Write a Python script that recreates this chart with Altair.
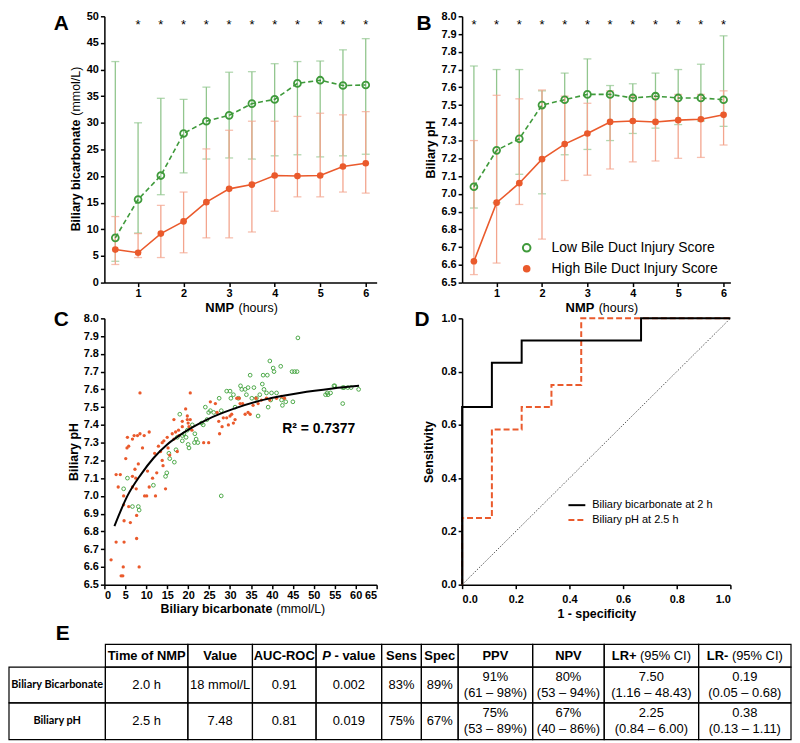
import altair as alt
import pandas as pd

# ---------------- data ----------------
hours = [0.5, 1.0, 1.5, 2.0, 2.5, 3.0, 3.5, 4.0, 4.5, 5.0, 5.5, 6.0]

hco3_low_mean = [8.4, 15.6, 20.1, 28.0, 30.3, 31.4, 33.6, 34.4, 37.4, 38.0, 37.0, 37.1]
hco3_low_upper = [41.5, 30.0, 34.6, 34.4, 36.7, 39.5, 39.6, 41.1, 41.5, 41.6, 43.7, 45.8]
hco3_low_lower = [4.0, 9.3, 16.5, 20.6, 23.2, 23.4, 23.2, 23.8, 24.0, 23.6, 23.8, 24.1]
hco3_high_mean = [6.2, 5.6, 9.2, 11.5, 15.1, 17.6, 18.4, 20.1, 20.0, 20.1, 21.8, 22.4]
hco3_high_upper = [12.4, 9.2, 14.5, 17.0, 25.1, 28.6, 30.3, 30.3, 31.2, 31.8, 31.5, 32.1]
hco3_high_lower = [3.4, 4.7, 4.7, 5.6, 8.4, 8.4, 9.5, 13.4, 16.1, 16.1, 17.0, 16.8]
sig_hco3 = [1.0, 1.5, 2.0, 2.5, 3.0, 3.5, 4.0, 4.5, 5.0, 5.5, 6.0]

ph_low_mean = [7.04, 7.245, 7.31, 7.50, 7.53, 7.56, 7.56, 7.54, 7.55, 7.54, 7.54, 7.53]
ph_low_upper = [7.72, 7.70, 7.70, 7.58, 7.68, 7.76, 7.61, 7.62, 7.68, 7.70, 7.73, 7.89]
ph_low_lower = [6.92, 6.95, 7.11, 7.00, 7.22, 7.25, 7.30, 7.34, 7.37, 7.39, 7.41, 7.38]
ph_high_mean = [6.62, 6.95, 7.06, 7.195, 7.28, 7.34, 7.405, 7.41, 7.405, 7.415, 7.42, 7.445]
ph_high_upper = [7.30, 7.555, 7.535, 7.585, 7.55, 7.51, 7.58, 7.55, 7.55, 7.56, 7.56, 7.58]
ph_high_lower = [6.545, 6.61, 6.94, 6.745, 7.075, 7.105, 7.14, 7.18, 7.185, 7.20, 7.205, 7.275]
sig_ph = [0.5, 1.0, 1.5, 2.0, 2.5, 3.0, 3.5, 4.0, 4.5, 5.0, 5.5, 6.0]

group_labels = ["Low Bile Duct Injury Score", "High Bile Duct Injury Score"]

scatter_low_hco3 = [5.5, 4.6, 6.7, 8.1, 8.3, 27.9, 11.7, 14.6, 14.9, 15.4,
                    15.6, 16.7, 17.1, 17.4, 18.0, 18.6, 19.0, 19.5, 20.0, 20.2,
                    21.0, 21.6, 21.9, 21.5, 22.3, 23.2, 23.6, 24.5, 24.9, 24.1,
                    25.3, 26.1, 27.4, 27.9, 30.0, 30.2, 30.8, 31.2, 32.0, 32.5,
                    32.8, 33.6, 33.9, 34.3, 34.8, 35.2, 35.7, 36.3, 36.7, 37.1,
                    37.7, 37.9, 38.1, 38.7, 38.9, 39.1, 39.5, 39.7, 39.9, 40.3,
                    40.5, 41.1, 42.1, 42.3, 42.5, 43.3, 44.8, 45.4, 46.0, 46.2,
                    45.0, 52.8, 53.4, 54.0, 55.0, 56.9, 57.2, 58.1, 58.9, 60.7,
                    56.9, 19.8, 18.6, 29.2, 54.8, 53.2]
scatter_low_ph = [7.10, 7.04, 6.94, 6.94, 6.92, 7.00, 7.06, 7.11, 7.13, 7.24,
                  7.21, 7.19, 7.26, 7.33, 7.46, 7.31, 7.35, 7.33, 7.29, 7.27,
                  7.40, 7.35, 7.32, 7.30, 7.30, 7.41, 7.40, 7.43, 7.47, 7.50,
                  7.48, 7.47, 7.55, 7.48, 7.59, 7.55, 7.57, 7.50, 7.55, 7.62,
                  7.60, 7.60, 7.57, 7.61, 7.68, 7.55, 7.61, 7.55, 7.45, 7.57,
                  7.63, 7.68, 7.60, 7.58, 7.68, 7.50, 7.76, 7.54, 7.58, 7.72,
                  7.70, 7.58, 7.73, 7.54, 7.51, 7.53, 7.70, 7.70, 7.70, 7.89,
                  7.53, 7.57, 7.57, 7.58, 7.62, 7.52, 7.61, 7.61, 7.61, 7.60,
                  7.61, 7.37, 7.34, 7.59, 7.62, 7.58]
scatter_high_hco3 = [1.6, 2.8, 4.7, 4.5, 8.3, 7.7, 4.7, 6.2, 7.7, 5.8,
                     4.6, 4.6, 3.3, 3.8, 6.7, 7.6, 7.5, 6.7, 7.3, 8.1,
                     5.1, 5.8, 6.7, 7.1, 7.9, 8.5, 9.5, 10.7, 9.1, 8.5,
                     9.6, 10.1, 10.7, 10.3, 12.2, 11.5, 12.5, 12.0, 12.9, 13.4,
                     13.8, 14.6, 14.0, 13.8, 14.2, 15.0, 15.2, 15.6, 16.6, 16.2,
                     17.0, 17.4, 17.8, 16.6, 17.7, 19.4, 19.8, 19.8, 20.0, 20.2,
                     18.6, 18.6, 20.5, 20.5, 20.9, 23.7, 24.9, 25.3, 26.5, 26.9,
                     27.3, 27.5, 28.1, 28.4, 29.2, 30.0, 29.6, 30.8, 31.2, 30.4,
                     31.6, 32.2, 33.0, 33.6, 34.3, 34.8, 35.5, 36.2, 37.5, 38.7,
                     39.5, 41.1, 42.3, 43.0, 36.7, 32.4, 2.8, 5.4, 5.5, 4.0,
                     4.4]
scatter_high_ph = [6.64, 6.74, 6.74, 6.60, 6.60, 6.76, 6.86, 6.85, 6.89, 6.94,
                   6.95, 7.00, 7.05, 7.12, 7.05, 7.04, 7.10, 7.11, 7.15, 7.18,
                   7.21, 7.28, 7.32, 7.34, 7.34, 7.35, 7.34, 7.36, 7.27, 7.58,
                   7.00, 7.00, 7.05, 7.14, 7.00, 7.10, 7.13, 7.24, 7.28, 7.25,
                   7.20, 7.04, 7.17, 7.30, 7.31, 7.33, 7.27, 7.23, 7.32, 7.35,
                   7.36, 7.25, 7.34, 7.43, 7.37, 7.49, 7.45, 7.43, 7.41, 7.39,
                   7.39, 7.42, 7.58, 7.43, 7.37, 7.30, 7.30, 7.53, 7.52, 7.47,
                   7.42, 7.35, 7.39, 7.44, 7.44, 7.45, 7.40, 7.41, 7.43, 7.46,
                   7.55, 7.55, 7.52, 7.46, 7.47, 7.46, 7.51, 7.55, 7.54, 7.55,
                   7.54, 7.55, 7.56, 7.55, 7.52, 7.52, 7.12, 7.27, 7.33, 6.55,
                   6.55]
fit_hco3 = [2.4, 5.5, 8.7, 11.8, 15.0, 18.2, 21.3, 24.5, 30.8, 38.7, 46.6, 54.5, 60.8]
fit_ph = [6.83, 7.0, 7.12, 7.215, 7.29, 7.345, 7.39, 7.43, 7.49, 7.545, 7.58, 7.605, 7.62]
r2_label = "R\u00b2 = 0.7377"

roc_hco3_fpr = [0, 0, 0.111, 0.111, 0.222, 0.222, 0.667, 0.667, 1.0]
roc_hco3_tpr = [0, 0.667, 0.667, 0.833, 0.833, 0.917, 0.917, 1.0, 1.0]
roc_ph_fpr = [0, 0, 0.111, 0.111, 0.222, 0.222, 0.333, 0.333, 0.444, 0.444, 1.0]
roc_ph_tpr = [0, 0.25, 0.25, 0.583, 0.583, 0.667, 0.667, 0.75, 0.75, 1.0, 1.0]
roc_labels = ["Biliary bicarbonate at 2 h", "Biliary pH at 2.5 h"]
diag = [0.0, 1.0]

table_header = ["", "Time of NMP", "Value", "AUC-ROC", "P - value", "Sens", "Spec",
                "PPV", "NPV", "LR+ (95% CI)", "LR- (95% CI)"]
table_row_labels = ["Biliary Bicarbonate", "Biliary pH"]
table_row1 = ["2.0 h", "18 mmol/L", "0.91", "0.002", "83%", "89%",
              "91%\n(61 \u2013 98%)", "80%\n(53 \u2013 94%)",
              "7.50\n(1.16 \u2013 48.43)", "0.19\n(0.05 \u2013 0.68)"]
table_row2 = ["2.5 h", "7.48", "0.81", "0.019", "75%", "67%",
              "75%\n(53 \u2013 89%)", "67%\n(40 \u2013 86%)",
              "2.25\n(0.84 \u2013 6.00)", "0.38\n(0.13 \u2013 1.11)"]

# ---------------- style / layout ----------------
FONT = "Liberation Sans"
ROWFONT = "Lato"
GREEN = "#3f9a3b"
GREEN_LIGHT = "#92c68e"
RED = "#ea5a2c"
RED_LIGHT = "#f3a58e"

W0, W1 = 274, 270
H0, H1, HE = 268, 268, 121
LINE_H = 16
XT = 26  # distance of the x-axis title below the plot


def txt(text, x, y, size=12.5, weight="bold", align="left", baseline="middle",
        angle=0, color="black", font=FONT, style="normal"):
    kw = dict(font=font, fontSize=size, fontWeight=weight, align=align,
              baseline=baseline, color=color, fontStyle=style)
    if angle:
        kw["angle"] = angle
    return alt.Chart(pd.DataFrame({"t": [text]})).mark_text(**kw).encode(
        text="t:N", x=alt.value(x), y=alt.value(y))


def timecourse(low, high, xdom, ydom, yvals, yfmt, sig):
    xs = alt.Scale(domain=xdom, nice=False, zero=False)
    ys = alt.Scale(domain=ydom, nice=False, zero=False)
    xax = alt.Axis(values=[1, 2, 3, 4, 5, 6], format="d", title=None, labelPadding=1)
    yax = alt.Axis(values=yvals, format=yfmt, title=None)

    def X():
        return alt.X("h:Q", scale=xs, axis=xax)

    def Y(f):
        return alt.Y(f + ":Q", scale=ys, axis=yax)

    layers = []
    dfs = []
    for (m, hi, lo), light in [(low, GREEN_LIGHT), (high, RED_LIGHT)]:
        df = pd.DataFrame({"h": hours, "m": m, "hi": hi, "lo": lo})
        dfs.append(df)
        base = alt.Chart(df)
        layers.append(base.mark_rule(color=light, strokeWidth=1.3).encode(
            x=X(), y=Y("lo"), y2="hi:Q"))
        layers.append(base.mark_tick(orient="horizontal", color=light, size=8,
                                     thickness=1.3).encode(x=X(), y=Y("lo")))
        layers.append(base.mark_tick(orient="horizontal", color=light, size=8,
                                     thickness=1.3).encode(x=X(), y=Y("hi")))
    layers.append(alt.Chart(dfs[0]).mark_line(color=GREEN, strokeWidth=1.6,
                                              strokeDash=[5, 3]).encode(x=X(), y=Y("m")))
    layers.append(alt.Chart(dfs[1]).mark_line(color=RED, strokeWidth=1.6).encode(
        x=X(), y=Y("m")))
    layers.append(alt.Chart(dfs[0]).mark_point(shape="circle", filled=False, size=48,
                                               strokeWidth=1.8, color=GREEN,
                                               opacity=1).encode(x=X(), y=Y("m")))
    layers.append(alt.Chart(dfs[1]).mark_circle(size=45, color=RED, opacity=1).encode(
        x=X(), y=Y("m")))
    layers.append(alt.Chart(pd.DataFrame({"h": sig})).mark_text(
        text="*", font=FONT, fontSize=13, color="black", baseline="alphabetic").encode(
        x=X(), y=alt.value(13)))
    return layers


# ---------- Panel A ----------
A_layers = timecourse((hco3_low_mean, hco3_low_upper, hco3_low_lower),
                      (hco3_high_mean, hco3_high_upper, hco3_high_lower),
                      [0.26, 6.24], [0, 50], list(range(0, 55, 5)), "d", sig_hco3)
A_layers += [
    txt("A", -51, 14, size=21, baseline="alphabetic"),
    txt("Biliary bicarbonate", -29, 104, size=12.5, align="right", angle=270),
    txt("(mmol/L)", -29, 100, size=12.5, weight="normal", align="left", angle=270),
    txt("NMP", 130.5, H0 + XT, size=13, align="right"),
    txt("(hours)", 135, H0 + XT, size=12.5, weight="normal", align="left"),
]
A = alt.layer(*A_layers).properties(width=W0, height=H0)

# ---------- Panel B ----------
ph_ticks = [round(6.5 + 0.1 * i, 1) for i in range(16)]
B_layers = timecourse((ph_low_mean, ph_low_upper, ph_low_lower),
                      (ph_high_mean, ph_high_upper, ph_high_lower),
                      [0.24, 6.15], [6.5, 8.0], ph_ticks, ".1f", sig_ph)
B_layers += [
    txt("B", -46, 14, size=21, baseline="alphabetic"),
    txt("Biliary pH", -31, H0 / 2, size=12.5, align="center", angle=270),
    txt("NMP", 133, H0 + XT, size=13, align="right"),
    txt("(hours)", 137.5, H0 + XT, size=12.5, weight="normal", align="left"),
    alt.Chart(pd.DataFrame({"g": [group_labels[0]]})).mark_point(
        shape="circle", filled=False, size=58, strokeWidth=2, color=GREEN, opacity=1).encode(
        x=alt.value(65), y=alt.value(233)),
    alt.Chart(pd.DataFrame({"g": [group_labels[1]]})).mark_circle(
        size=58, color=RED, opacity=1).encode(x=alt.value(65), y=alt.value(254)),
    txt(group_labels[0], 90, 233, size=14, weight="normal"),
    txt(group_labels[1], 90, 254, size=14, weight="normal"),
]
B = alt.layer(*B_layers).properties(width=W1, height=H0)

# ---------- Panel C ----------
cxs = alt.Scale(domain=[0, 65], nice=False, zero=False)
cys = alt.Scale(domain=[6.5, 8.0], nice=False, zero=False)
cxax = alt.Axis(values=list(range(0, 70, 5)), format="d", title=None, labelPadding=1)
cyax = alt.Axis(values=ph_ticks, format=".1f", title="Biliary pH", titlePadding=3)


def CX(f):
    return alt.X(f + ":Q", scale=cxs, axis=cxax)


def CY(f):
    return alt.Y(f + ":Q", scale=cys, axis=cyax)


c_low = pd.DataFrame({"b": scatter_low_hco3, "p": scatter_low_ph})
c_high = pd.DataFrame({"b": scatter_high_hco3, "p": scatter_high_ph})
c_fit = pd.DataFrame({"b": fit_hco3, "p": fit_ph})
C = alt.layer(
    alt.Chart(c_low).mark_point(shape="circle", filled=False, size=14, strokeWidth=1,
                                color="#4ea84a", opacity=1).encode(x=CX("b"), y=CY("p")),
    alt.Chart(c_high).mark_circle(size=11, color=RED, opacity=1).encode(
        x=CX("b"), y=CY("p")),
    alt.Chart(c_fit).mark_line(color="black", strokeWidth=2, interpolate="monotone").encode(
        x=CX("b"), y=CY("p")),
    txt(r2_label, 179, 111, size=14),
    txt("C", -51, 8, size=21, baseline="alphabetic"),
    txt("Biliary bicarbonate", 169, H1 + XT - 1, size=12.5, align="right"),
    txt("(mmol/L)", 173, H1 + XT - 1, size=12.5, weight="normal", align="left"),
).properties(width=W0, height=H1)

# ---------- Panel D ----------
dxs = alt.Scale(domain=[0, 1], nice=False, zero=False)
dys = alt.Scale(domain=[0, 1], nice=False, zero=False)
roc_vals = [0.0, 0.2, 0.4, 0.6, 0.8, 1.0]
dxax = alt.Axis(values=roc_vals, format=".1f", title="1 - specificity",
                labelPadding=5, titlePadding=3)
dyax = alt.Axis(values=roc_vals, format=".1f", title="Sensitivity", titlePadding=6)


def DX(f):
    return alt.X(f + ":Q", scale=dxs, axis=dxax)


def DY(f):
    return alt.Y(f + ":Q", scale=dys, axis=dyax)


d_diag = pd.DataFrame({"fx": diag, "ty": diag, "i": [0, 1]})
d_hco3 = pd.DataFrame({"fx": roc_hco3_fpr, "ty": roc_hco3_tpr,
                       "i": list(range(len(roc_hco3_fpr)))})
d_ph = pd.DataFrame({"fx": roc_ph_fpr, "ty": roc_ph_tpr,
                     "i": list(range(len(roc_ph_fpr)))})
D = alt.layer(
    alt.Chart(d_diag).mark_line(color="#444444", strokeWidth=0.9, strokeDash=[1.5, 1.5]).encode(
        x=DX("fx"), y=DY("ty"), order="i:Q"),
    alt.Chart(d_ph).mark_line(color=RED, strokeWidth=2, strokeDash=[6, 3]).encode(
        x=DX("fx"), y=DY("ty"), order="i:Q"),
    alt.Chart(d_hco3).mark_line(color="black", strokeWidth=2).encode(
        x=DX("fx"), y=DY("ty"), order="i:Q"),
    alt.Chart(pd.DataFrame({"l": [roc_labels[0]]})).mark_rule(color="black", strokeWidth=2).encode(
        x=alt.value(107), x2=alt.value(124), y=alt.value(188)),
    alt.Chart(pd.DataFrame({"l": [roc_labels[1]]})).mark_rule(
        color=RED, strokeWidth=2, strokeDash=[6, 3]).encode(
        x=alt.value(107), x2=alt.value(124), y=alt.value(203)),
    txt(roc_labels[0], 131, 188, size=11, weight="normal"),
    txt(roc_labels[1], 131, 203, size=11, weight="normal"),
    txt("D", -48, 8, size=21, baseline="alphabetic"),
).properties(width=W1, height=H1)

# ---------- Panel E (table) ----------
col_w = [97, 83, 65, 64, 66, 40, 37, 75, 72, 95, 93]
row_h = [23, 36, 37]
x_edges = [0]
for wv in col_w:
    x_edges.append(x_edges[-1] + wv)
y_edges = [0]
for hv in row_h:
    y_edges.append(y_edges[-1] + hv)
TW, TH = x_edges[-1], y_edges[-1]
TABLE_LEFT, TABLE_TOP = -96, 24
tx = alt.Scale(domain=[0, TW], range=[TABLE_LEFT, TABLE_LEFT + TW])
ty = alt.Scale(domain=[0, TH], range=[TABLE_TOP, TABLE_TOP + TH])


def EX(f):
    return alt.X(f + ":Q", scale=tx, axis=None)


def EY(f):
    return alt.Y(f + ":Q", scale=ty, axis=None)


rects = []
for r in range(3):
    for c in range(11):
        if r == 0 and c == 0:
            continue
        rects.append({"x0": x_edges[c], "x1": x_edges[c + 1],
                      "y0": y_edges[r], "y1": y_edges[r + 1]})
rect_df = pd.DataFrame(rects)


def cx(c):
    return (x_edges[c] + x_edges[c + 1]) / 2


def cy(r):
    return (y_edges[r] + y_edges[r + 1]) / 2


split_offsets = {
    "P - value": [("P", -26.7, "bold", "italic"), ("- value", -14.4, "bold", "normal")],
    "LR+ (95% CI)": [("LR+", -39.9, "bold", "normal"), ("(95% CI)", -11.4, "normal", "normal")],
    "LR- (95% CI)": [("LR-", -38.3, "bold", "normal"), ("(95% CI)", -13.0, "normal", "normal")],
}
hdr_center, seg_rows = [], []
for c, lab in enumerate(table_header):
    if c == 0:
        continue
    if lab in split_offsets:
        for seg, dx, wt, st in split_offsets[lab]:
            seg_rows.append({"x": cx(c) + dx, "y": cy(0), "t": seg, "w": wt, "s": st})
    else:
        hdr_center.append({"x": cx(c), "y": cy(0), "t": lab})
seg_df = pd.DataFrame(seg_rows)

body = []
for r, row in enumerate([table_row1, table_row2]):
    for c, v in enumerate(row):
        n_lines = v.count("\n") + 1
        body.append({"x": cx(c + 1), "y": cy(r + 1) - (n_lines - 1) * LINE_H / 2, "t": v})
rowlab = [{"x": cx(0), "y": cy(r + 1), "t": t} for r, t in enumerate(table_row_labels)]


def etext(df, weight="bold", style="normal", align="center", size=13, font=FONT, lb=False):
    kw = dict(font=font, fontSize=size, fontWeight=weight, fontStyle=style, align=align,
              baseline="middle", color="black")
    if lb:
        kw.update(lineBreak="\n", lineHeight=LINE_H)
    return alt.Chart(df).mark_text(**kw).encode(x=EX("x"), y=EY("y"), text="t:N")


E_layers = [
    alt.Chart(rect_df).mark_rect(fillOpacity=0, stroke="black", strokeWidth=1.2).encode(
        x=EX("x0"), x2="x1:Q", y=EY("y0"), y2="y1:Q"),
    etext(pd.DataFrame(hdr_center)),
    etext(pd.DataFrame(body), weight="normal", lb=True),
    etext(pd.DataFrame(rowlab), font=ROWFONT, size=11),
]
for (wt, st), sub in seg_df.groupby(["w", "s"]):
    E_layers.append(etext(sub.reset_index(drop=True), weight=wt, style=st, align="left"))
E_layers.append(txt("E", -49, 20, size=21, baseline="alphabetic"))
E = alt.layer(*E_layers).properties(width=W0, height=HE)

chart = alt.concat(
    A, B, C, D, E, columns=2,
    spacing={"row": 36, "column": 86}, bounds="flush", align="each",
).properties(padding=0).configure_view(strokeOpacity=0).configure_axis(
    domainColor="black", domainWidth=1.5, tickColor="black", tickWidth=1.5, tickSize=4,
    labelFont=FONT, labelFontSize=11, labelFontWeight="bold", labelColor="black",
    labelPadding=2, grid=False, titleFont=FONT, titleFontSize=12.5,
    titleFontWeight="bold", titleColor="black",
)

chart.save("out.html", embed_options={"renderer": "svg", "actions": False})
